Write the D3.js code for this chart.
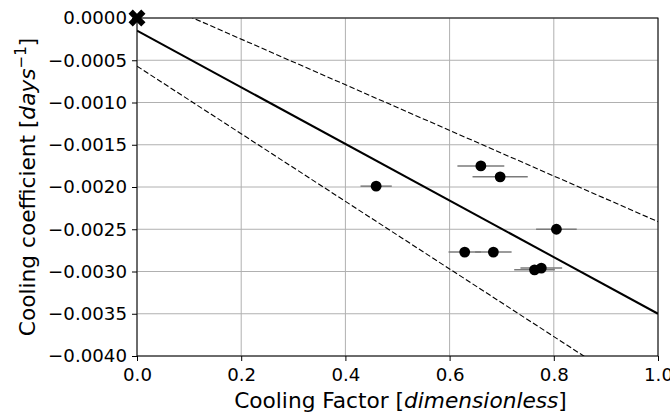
<!DOCTYPE html>
<html>
<head>
<meta charset="utf-8">
<script src="https://cdn.jsdelivr.net/npm/d3@7"></script>
<style>
  body { margin: 0; background: #fff; }
  svg { display: block; font-family: "DejaVu Sans", sans-serif; }
</style>
</head>
<body>
<svg width="670" height="417"></svg>
<script>
// measured points: cooling factor, its error, cooling coefficient
const factor = [0.660, 0.697, 0.805, 0.629, 0.684, 0.763, 0.776, 0.459]
const factorErr = [0.045, 0.053, 0.039, 0.031, 0.035, 0.039, 0.040, 0.030]
const coeff = [-0.00175, -0.00188, -0.00250, -0.00277, -0.00277, -0.00298, -0.00296, -0.00199]

// fit line and its bounds: [intercept, slope]
const fit = [-0.00015, -0.00335]
const upperBound = [0.00029, -0.0027]
const lowerBound = [-0.00057, -0.0040]

const origin = [[0, 0]]
const xTicks = [0, 0.2, 0.4, 0.6, 0.8, 1.0]
const yTicks = [0, -0.0005, -0.001, -0.0015, -0.002, -0.0025, -0.003, -0.0035, -0.004]

const margin = { left: 137, top: 18 }
const width = 521, height = 338

const svg = d3.select('svg')
const g = svg.append('g').attr('transform', `translate(${margin.left}, ${margin.top})`)

const x = d3.scaleLinear().domain([0, 1]).range([0, width])
const y = d3.scaleLinear().domain([-0.004, 0]).range([height, 0])

// grid
g.append('g').selectAll('line').data(xTicks).join('line')
	.attr('x1', d => x(d)).attr('x2', d => x(d))
	.attr('y1', 0).attr('y2', height)
	.attr('stroke', '#b0b0b0').attr('stroke-width', 1)
g.append('g').selectAll('line').data(yTicks).join('line')
	.attr('y1', d => y(d)).attr('y2', d => y(d))
	.attr('x1', 0).attr('x2', width)
	.attr('stroke', '#b0b0b0').attr('stroke-width', 1)

svg.append('clipPath').attr('id', 'plot-clip')
	.append('rect').attr('width', width).attr('height', height)

const lines = g.append('g').attr('clip-path', 'url(#plot-clip)')
const drawLine = (p, w, dash) => lines.append('line')
	.attr('x1', x(0)).attr('y1', y(p[0]))
	.attr('x2', x(1)).attr('y2', y(p[0] + p[1]))
	.attr('stroke', '#000').attr('stroke-width', w)
	.attr('stroke-dasharray', dash)
drawLine(fit, 2, null)
drawLine(upperBound, 1.1, '5.5,2.5')
drawLine(lowerBound, 1.1, '5.5,2.5')

// error bars
g.append('g').selectAll('line').data(factor).join('line')
	.attr('x1', (d, i) => x(d - factorErr[i]))
	.attr('x2', (d, i) => x(d + factorErr[i]))
	.attr('y1', (d, i) => y(coeff[i])).attr('y2', (d, i) => y(coeff[i]))
	.attr('stroke', '#7a7a7a').attr('stroke-width', 1.5)

g.append('g').selectAll('circle').data(factor).join('circle')
	.attr('cx', d => x(d))
	.attr('cy', (d, i) => y(coeff[i]))
	.attr('r', 5.4)
	.attr('fill', '#000')

// axes
const xAxis = d3.axisBottom(x).tickValues(xTicks).tickFormat(d3.format('.1f')).tickSizeOuter(0).tickSize(5).tickPadding(7)
const yAxis = d3.axisLeft(y).tickValues(yTicks).tickFormat(d3.format('.4f')).tickSizeOuter(0).tickSize(5).tickPadding(5)

const xg = g.append('g').attr('transform', `translate(0, ${height})`).call(xAxis)
const yg = g.append('g').call(yAxis)
for (const a of [xg, yg]) {
	a.select('.domain').remove()
	a.selectAll('text').attr('font-size', 18.2).attr('font-family', 'DejaVu Sans').attr('fill', '#000')
	a.selectAll('line').attr('stroke', '#000').attr('stroke-width', 1)
}

// spines
g.append('rect').attr('width', width).attr('height', height)
	.attr('fill', 'none').attr('stroke', '#000').attr('stroke-width', 1)

// origin marker
g.append('g').selectAll('path').data(origin).join('path')
	.attr('d', d3.symbol(d3.symbolCross, 180))
	.attr('transform', d => `translate(${x(d[0])}, ${y(d[1])}) rotate(45)`)
	.attr('fill', '#000')

// labels
const xl = svg.append('text')
	.attr('x', margin.left + width / 2 + 3).attr('y', 408)
	.attr('text-anchor', 'middle').attr('font-size', 21.7)
xl.append('tspan').text('Cooling Factor [')
xl.append('tspan').attr('font-style', 'italic').text('dimensionless')
xl.append('tspan').text(']')

const yl = svg.append('text')
	.attr('transform', `translate(35, ${margin.top + height / 2}) rotate(-90)`)
	.attr('text-anchor', 'middle').attr('font-size', 21.7)
yl.append('tspan').text('Cooling coefficient [')
yl.append('tspan').attr('font-style', 'italic').text('days')
yl.append('tspan').attr('font-size', 15).attr('dy', -9).text('−1')
yl.append('tspan').attr('dy', 9).text(']')
</script>
</body>
</html>
